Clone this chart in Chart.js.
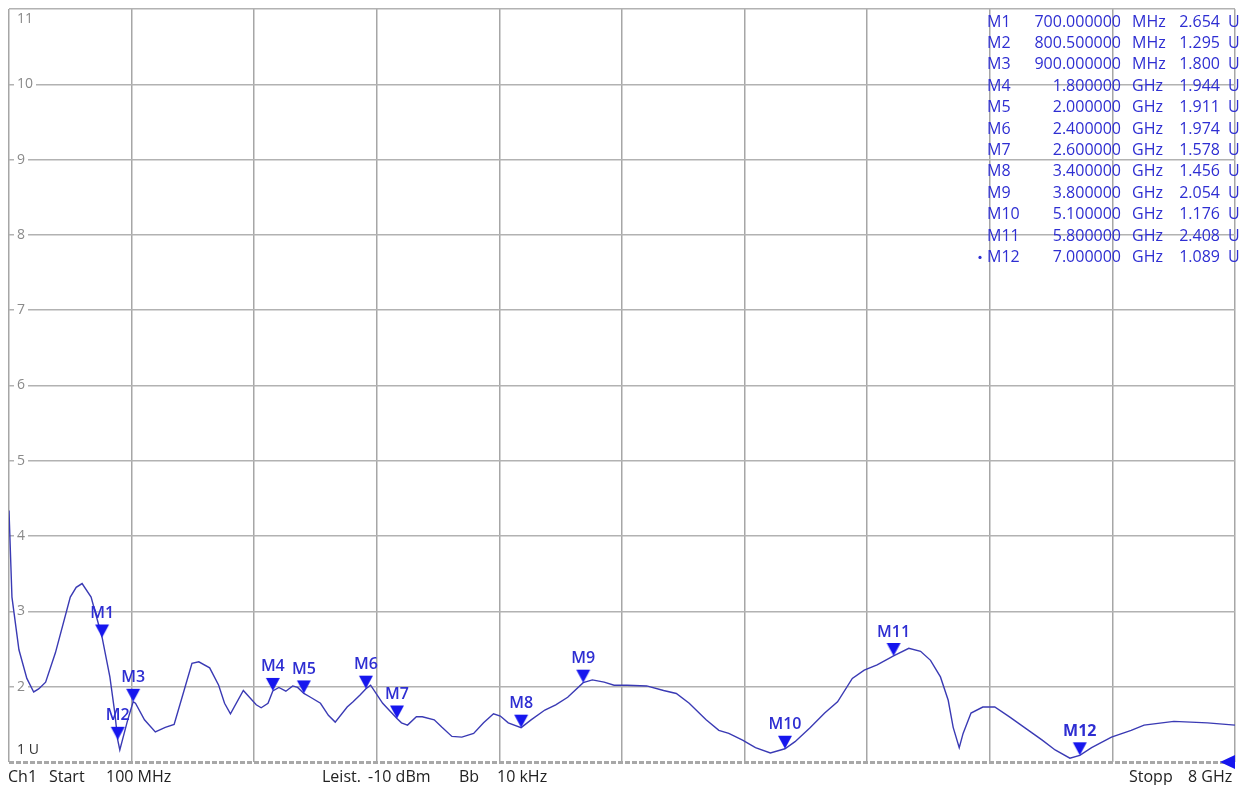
<!DOCTYPE html>
<html>
<head>
<meta charset="utf-8">
<title>VSWR Ch1</title>
<script src="https://cdn.jsdelivr.net/npm/chart.js@4/dist/chart.umd.min.js"></script>
<style>
  html, body { margin: 0; padding: 0; background: #fff; }
  canvas { display: block; }
</style>
</head>
<body>
<canvas id="vswr" width="1244" height="785"></canvas>
<script>
// VSWR trace (frequency in MHz)
const freqMHz = [100, 119, 164, 215, 259, 291, 336, 399, 495, 533,
  571, 629, 700, 750, 782, 800.5, 814, 865, 900, 915,
  973, 1043, 1107, 1164, 1228, 1279, 1323, 1393, 1451, 1489,
  1527, 1610, 1693, 1725, 1769, 1800, 1839, 1884, 1928, 1960,
  2000, 2043, 2107, 2158, 2202, 2279, 2317, 2362, 2400, 2430,
  2508, 2600, 2629, 2668, 2725, 2763, 2840, 2890, 2954, 3018,
  3094, 3158, 3222, 3266, 3317, 3400, 3464, 3553, 3623, 3700,
  3800, 3859, 3935, 3999, 4082, 4209, 4318, 4400, 4483, 4592,
  4674, 4738, 4827, 4910, 5006, 5100, 5165, 5260, 5356, 5439,
  5534, 5611, 5694, 5800, 5898, 5974, 6038, 6102, 6152, 6184,
  6223, 6248, 6299, 6375, 6452, 6547, 6649, 6758, 6841, 6936,
  7000, 7076, 7204, 7331, 7414, 7606, 7822, 8000];
const vswr = [4.34, 3.19, 2.49, 2.11, 1.93, 1.97, 2.06, 2.45, 3.19, 3.32,
  3.37, 3.19, 2.654, 2.13, 1.65, 1.295, 1.16, 1.56, 1.80, 1.78,
  1.56, 1.40, 1.46, 1.50, 1.95, 2.31, 2.33, 2.25, 2.02, 1.78,
  1.64, 1.95, 1.76, 1.72, 1.78, 1.944, 1.99, 1.94, 2.01, 1.99,
  1.911, 1.86, 1.78, 1.62, 1.53, 1.73, 1.80, 1.89, 1.974, 2.02,
  1.78, 1.578, 1.52, 1.49, 1.60, 1.60, 1.56, 1.46, 1.34, 1.33,
  1.38, 1.52, 1.64, 1.61, 1.52, 1.456, 1.56, 1.69, 1.76, 1.86,
  2.054, 2.09, 2.06, 2.02, 2.02, 2.01, 1.95, 1.91, 1.78, 1.56,
  1.42, 1.38, 1.29, 1.19, 1.12, 1.176, 1.27, 1.45, 1.65, 1.80,
  2.11, 2.22, 2.29, 2.408, 2.51, 2.47, 2.35, 2.13, 1.82, 1.46,
  1.19, 1.38, 1.65, 1.73, 1.73, 1.60, 1.45, 1.29, 1.16, 1.05,
  1.089, 1.19, 1.33, 1.42, 1.49, 1.54, 1.52, 1.49];

// markers
const markerNames = ["M1", "M2", "M3", "M4", "M5", "M6", "M7", "M8", "M9", "M10", "M11", "M12"];
const markerFreqMHz = [700, 800.5, 900, 1800, 2000, 2400, 2600, 3400, 3800, 5100, 5800, 7000];
const markerVswr = [2.654, 1.295, 1.800, 1.944, 1.911, 1.974, 1.578, 1.456, 2.054, 1.176, 2.408, 1.089];

// grid divisions: 10 x 790 MHz, 1 U per division
const xGridMHz = [100, 890, 1680, 2470, 3260, 4050, 4840, 5630, 6420, 7210, 8000];
const yTicks = [1, 2, 3, 4, 5, 6, 7, 8, 9, 10, 11];

const FONT = '"Open Sans", "Noto Sans", sans-serif';
const MARK_BLUE = "#1616ee";
const TEXT_BLUE = "#2e2ed2";

// down-pointing triangle whose tip sits on the image centre
function markerTriangle() {
  const c = document.createElement("canvas");
  c.width = 16;
  c.height = 28;
  const g = c.getContext("2d");
  g.fillStyle = MARK_BLUE;
  g.beginPath();
  g.moveTo(1, 1);
  g.lineTo(15, 1);
  g.lineTo(8, 14);
  g.closePath();
  g.fill();
  return c;
}

function fmtFreq(mhz) {
  if (mhz < 1000) return [mhz.toFixed(6), "MHz"];
  return [(mhz / 1000).toFixed(6), "GHz"];
}

// axes sit flush with the chart area, labels are drawn inside it
function flush(s) {
  if (s.isHorizontal()) s.height = 0;
  else s.width = 0;
  s.paddingTop = 0;
  s.paddingBottom = 0;
  s.paddingLeft = 0;
  s.paddingRight = 0;
}

const screenText = {
  id: "screenText",
  beforeDatasetsDraw(chart) {
    const { ctx, chartArea, scales } = chart;
    const y = scales.y;
    ctx.save();
    // dashed reference line at the bottom
    ctx.strokeStyle = "#a8a8a8";
    ctx.lineWidth = 3;
    ctx.setLineDash([5, 2]);
    ctx.beginPath();
    ctx.moveTo(chartArea.left, y.getPixelForValue(1) + 0.5);
    ctx.lineTo(chartArea.right, y.getPixelForValue(1) + 0.5);
    ctx.stroke();
    ctx.setLineDash([]);
    // end labels of the y scale
    ctx.font = "14px " + FONT;
    ctx.textBaseline = "middle";
    ctx.textAlign = "left";
    ctx.fillStyle = "#8a8a8a";
    ctx.fillText("11", chartArea.left + 8, y.getPixelForValue(11) + 10);
    ctx.fillStyle = "#333";
    ctx.fillText("1 U", chartArea.left + 8, y.getPixelForValue(1) - 12);
    ctx.restore();
  },
  afterDatasetsDraw(chart) {
    const { ctx, chartArea, scales } = chart;
    const meta = chart.getDatasetMeta(1);
    ctx.save();
    // marker names above the triangles
    ctx.textAlign = "center";
    ctx.textBaseline = "middle";
    ctx.fillStyle = TEXT_BLUE;
    meta.data.forEach((pt, i) => {
      ctx.font = (i === markerNames.length - 1 ? "bold " : "600 ") + "16px " + FONT;
      ctx.fillText(markerNames[i], pt.x, pt.y - 24);
    });

    // marker table, top right
    ctx.font = "16px " + FONT;
    markerNames.forEach((name, i) => {
      const rowY = 22 + i * 21.4;
      const [num, unit] = fmtFreq(markerFreqMHz[i]);
      ctx.textAlign = "left";
      ctx.fillText(name, 987, rowY);
      ctx.textAlign = "right";
      ctx.fillText(num, 1121, rowY);
      ctx.textAlign = "left";
      ctx.fillText(unit, 1132, rowY);
      ctx.textAlign = "right";
      ctx.fillText(markerVswr[i].toFixed(3), 1220, rowY);
      ctx.textAlign = "left";
      ctx.fillText("U", 1228, rowY);
    });
    ctx.beginPath();
    ctx.arc(980, 22 + 11 * 21.4, 1.6, 0, Math.PI * 2);
    ctx.fill();

    // reference level arrow at the right edge
    const refY = scales.y.getPixelForValue(1);
    ctx.fillStyle = MARK_BLUE;
    ctx.beginPath();
    ctx.moveTo(chartArea.right - 15, refY);
    ctx.lineTo(chartArea.right, refY - 7);
    ctx.lineTo(chartArea.right, refY + 7);
    ctx.closePath();
    ctx.fill();

    // channel footer
    ctx.fillStyle = "#222";
    ctx.font = "16px " + FONT;
    ctx.textAlign = "left";
    const fy = 777;
    [["Ch1", 8], ["Start", 49], ["100 MHz", 106], ["Leist.", 322], ["-10 dBm", 368],
     ["Bb", 459], ["10 kHz", 497], ["Stopp", 1129], ["8 GHz", 1188]].forEach(([t, x]) => {
      ctx.fillText(t, x, fy);
    });
    ctx.restore();
  },
};

const ctx = document.getElementById("vswr").getContext("2d");
new Chart(ctx, {
  type: "line",
  data: {
    datasets: [
      {
        label: "Trc1 SWR",
        data: freqMHz.map((f, i) => ({ x: f, y: vswr[i] })),
        borderColor: "#3a3ab4",
        borderWidth: 1.4,
        pointRadius: 0,
        tension: 0,
        order: 2,
      },
      {
        label: "Markers",
        data: markerFreqMHz.map((f, i) => ({ x: f, y: markerVswr[i] })),
        showLine: false,
        pointStyle: markerTriangle(),
        pointRadius: 8,
        order: 1,
      },
    ],
  },
  options: {
    responsive: false,
    animation: false,
    layout: { padding: { left: 5, top: 8, right: 0, bottom: 23 } },
    plugins: { legend: { display: false }, tooltip: { enabled: false } },
    scales: {
      x: {
        type: "linear",
        min: 100,
        max: 8000,
        afterBuildTicks: (s) => { s.ticks = xGridMHz.map((v) => ({ value: v })); },
        afterFit: flush,
        ticks: { display: false },
        grid: { color: "#a6a6a6", lineWidth: 1.5, drawTicks: false },
        border: { display: false },
      },
      y: {
        min: 1,
        max: 11,
        afterBuildTicks: (s) => { s.ticks = yTicks.map((v) => ({ value: v })); },
        afterFit: flush,
        ticks: {
          mirror: true,
          padding: 8,
          color: "#8a8a8a",
          font: { family: FONT, size: 14 },
          callback: (v) => (v === 1 || v === 11 ? "" : String(v)),
          showLabelBackdrop: true,
          backdropColor: (c) => (c.tick && (c.tick.value === 1 || c.tick.value === 11) ? "rgba(0,0,0,0)" : "#fff"),
          backdropPadding: { top: 0, bottom: 0, left: 3, right: 3 },
        },
        grid: {
          color: (c) => (c.tick && c.tick.value === 1 ? "rgba(0,0,0,0)" : "#b2b2b2"),
          lineWidth: 1.5,
          drawTicks: false,
        },
        border: { display: false },
      },
    },
  },
  plugins: [screenText],
});
</script>
</body>
</html>
